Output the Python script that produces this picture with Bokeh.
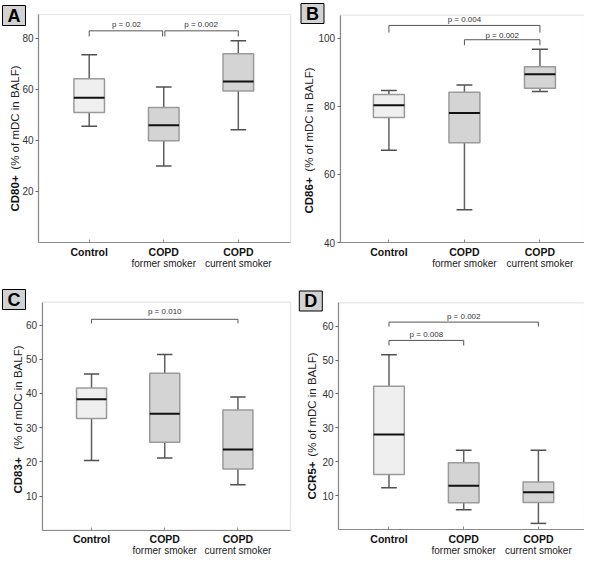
from bokeh.plotting import figure
from bokeh.models import Range1d, FixedTicker, LinearAxis, Label, BoxAnnotation
from bokeh.layouts import column, row
from bokeh.core.properties import value
from bokeh.embed import file_html
from bokeh.resources import INLINE

FONT = "Liberation Sans"

# ---------------- data ----------------
groups = ["Control", "COPD", "COPD"]
subgroups = ["", "former smoker", "current smoker"]
ylabel_suffix = "(% of mDC in BALF)"

# Panel A: CD80+
a_low = [45.5, 30.0, 44.2]
a_q1 = [50.9, 39.9, 59.3]
a_med = [56.7, 45.9, 63.1]
a_q3 = [64.1, 52.9, 73.9]
a_high = [73.5, 60.9, 79.0]
a_ticks = [20, 40, 60, 80]
a_pvals = ["p = 0.02", "p = 0.002"]
a_pairs = [(0, 1), (1, 2)]
a_bar_y = [82.9, 82.9]
a_bar_end = [80.7, 80.7]
a_text_y = [85.2, 85.2]

# Panel B: CD86+
b_low = [67.1, 49.6, 84.3]
b_q1 = [76.7, 69.3, 85.3]
b_med = [80.3, 78.0, 89.4]
b_q3 = [83.4, 84.1, 91.6]
b_high = [84.6, 86.2, 96.7]
b_ticks = [40, 60, 80, 100]
b_pvals = ["p = 0.004", "p = 0.002"]
b_pairs = [(0, 2), (1, 2)]
b_bar_y = [103.7, 99.5]
b_bar_end = [101.6, 97.9]
b_text_y = [105.5, 100.8]

# Panel C: CD83+
c_low = [20.4, 21.1, 13.3]
c_q1 = [32.7, 25.7, 17.9]
c_med = [38.3, 34.1, 23.6]
c_q3 = [41.6, 45.9, 35.2]
c_high = [45.7, 51.4, 39.0]
c_ticks = [10, 20, 30, 40, 50, 60]
c_pvals = ["p = 0.010"]
c_pairs = [(0, 2)]
c_bar_y = [61.7]
c_bar_end = [60.5]
c_text_y = [63.9]

# Panel D: CCR5+
d_low = [12.3, 5.8, 1.8]
d_q1 = [16.2, 7.9, 8.0]
d_med = [28.0, 12.9, 11.0]
d_q3 = [42.3, 19.7, 14.0]
d_high = [51.6, 23.4, 23.4]
d_ticks = [10, 20, 30, 40, 50, 60]
d_pvals = ["p = 0.002", "p = 0.008"]
d_pairs = [(0, 2), (0, 1)]
d_bar_y = [61.2, 55.8]
d_bar_end = [59.9, 54.3]
d_text_y = [62.8, 57.4]

CTRL_FILL = "#efefef"
COPD_FILL = "#d4d4d4"
fills = [CTRL_FILL, COPD_FILL, COPD_FILL]


def panel(letter, marker, low, q1, med, q3, high, ticks, pvals, pairs, bar_y, bar_end, text_y,
          xr, yr, size, inner, ylab_x, ylab_lo, ylab_hi, letter_xy):
    W, H = size
    L, R, T, B = inner            # plot box inside the figure (pixels, from top-left)
    xlo, xhi = xr
    ylo, yhi = yr
    kx = (R - L) / (xhi - xlo)
    ky = (B - T) / (yhi - ylo)
    fx = (xlo - L / kx, xhi + (W - R) / kx)
    fy = (ylo - (H - B) / ky, yhi + T / ky)

    p = figure(width=W, height=H, x_range=Range1d(*fx), y_range=Range1d(*fy),
               output_backend="svg", toolbar_location=None, min_border=0)
    p.xgrid.visible = False
    p.ygrid.visible = False
    p.outline_line_color = None
    p.background_fill_color = "white"
    p.border_fill_color = "white"

    # plot box outline
    p.add_layout(BoxAnnotation(left=xlo, right=xhi, bottom=ylo, top=yhi,
                               fill_color=None, line_color="#a8a8a8", line_width=1.2,
                               level="underlay"))

    xs = list(range(len(groups)))
    bw = 0.41
    cw = 0.21
    # whiskers
    p.segment(x0=xs, y0=q3, x1=xs, y1=high, line_color="#606060", line_width=1.5)
    p.segment(x0=xs, y0=q1, x1=xs, y1=low, line_color="#606060", line_width=1.5)
    p.segment(x0=[x - cw / 2 for x in xs], y0=high, x1=[x + cw / 2 for x in xs], y1=high,
              line_color="#505050", line_width=1.5)
    p.segment(x0=[x - cw / 2 for x in xs], y0=low, x1=[x + cw / 2 for x in xs], y1=low,
              line_color="#505050", line_width=1.5)
    # boxes
    p.vbar(x=xs, width=bw, bottom=q1, top=q3, fill_color=fills,
           line_color="#9a9a9a", line_width=1.5)
    # medians
    p.segment(x0=[x - bw / 2 for x in xs], y0=med, x1=[x + bw / 2 for x in xs], y1=med,
              line_color="#111111", line_width=2)

    # significance brackets
    bx0, bx1, by, bye, tx = [], [], [], [], []
    for k, (i, j) in enumerate(pairs):
        gap = 0.015 if (i, j) == (1, 2) and letter == "A" else 0.0
        gap0 = 0.015 if (i, j) == (0, 1) and letter == "A" else 0.0
        bx0.append(i + gap); bx1.append(j - gap0)
        by.append(bar_y[k]); bye.append(bar_end[k])
        tx.append((i + j) / 2)
    p.segment(x0=bx0, y0=by, x1=bx1, y1=by, line_color="#555555", line_width=1)
    p.segment(x0=bx0, y0=by, x1=bx0, y1=bye, line_color="#555555", line_width=1)
    p.segment(x0=bx1, y0=by, x1=bx1, y1=bye, line_color="#555555", line_width=1)
    p.text(x=tx, y=text_y, text=pvals, text_font=value(FONT), text_font_size="8px",
           text_align="center", text_baseline="middle", text_color="#333333")

    # y axis (drawn at the left edge of the plot box)
    ya = p.yaxis[0]
    ya.fixed_location = xlo
    ya.bounds = (ylo, yhi)
    ya.ticker = FixedTicker(ticks=ticks)
    ya.major_tick_in = 0
    ya.major_tick_out = 3
    ya.minor_tick_line_color = None
    ya.axis_line_color = "#8a8a8a"
    ya.axis_line_width = 1.2
    ya.major_tick_line_color = "#666666"
    ya.major_label_text_font = FONT
    ya.major_label_text_font_size = "10px"
    ya.major_label_text_color = "#333333"
    ya.major_label_standoff = 2

    # x axes (group name bold, subgroup below)
    xa = p.xaxis[0]
    xa.fixed_location = ylo
    xa.bounds = (xlo, xhi)
    xa.ticker = FixedTicker(ticks=xs)
    xa.major_label_overrides = {i: g for i, g in enumerate(groups)}
    xa.major_tick_in = 3
    xa.major_tick_out = 0
    xa.minor_tick_line_color = None
    xa.axis_line_color = "#8a8a8a"
    xa.axis_line_width = 1.2
    xa.major_tick_line_color = "#8a8a8a"
    xa.major_label_text_font = FONT
    xa.major_label_text_font_style = "bold"
    xa.major_label_text_font_size = "10.5px"
    xa.major_label_text_color = "#111111"
    xa.major_label_standoff = 3

    xa2 = LinearAxis(ticker=FixedTicker(ticks=xs), fixed_location=ylo,
                     major_label_overrides={i: s for i, s in enumerate(subgroups)})
    xa2.axis_line_color = None
    xa2.major_tick_line_color = None
    xa2.minor_tick_line_color = None
    xa2.major_tick_in = 0
    xa2.major_tick_out = 0
    xa2.major_label_standoff = 15
    xa2.major_label_text_font = FONT
    xa2.major_label_text_font_size = "10px"
    xa2.major_label_text_color = "#222222"
    p.add_layout(xa2, "below")

    # y axis title: bold marker + normal text
    p.add_layout(Label(x=ylab_x, y=H - ylab_lo, x_units="screen", y_units="screen",
                       text=marker, angle=90, angle_units="deg",
                       text_align="left", text_baseline="middle", text_font=FONT,
                       text_font_style="bold", text_font_size="11.5px", text_color="#111111"))
    p.add_layout(Label(x=ylab_x, y=H - ylab_hi, x_units="screen", y_units="screen",
                       text=ylabel_suffix, angle=90, angle_units="deg",
                       text_align="right", text_baseline="middle", text_font=FONT,
                       text_font_size="11.5px", text_color="#222222"))
    # panel letter
    p.add_layout(Label(x=letter_xy[0], y=H - letter_xy[1], x_units="screen", y_units="screen",
                       text=letter, text_align="center",
                       text_baseline="middle", text_font=FONT, text_font_style="bold",
                       text_font_size="18px", text_color="#000000",
                       background_fill_color="#d2d2d2", border_line_color="#000000",
                       border_line_width=1, padding=(5, 0)))
    return p


pA = panel("A", "CD80+", a_low, a_q1, a_med, a_q3, a_high, a_ticks, a_pvals, a_pairs,
           a_bar_y, a_bar_end, a_text_y,
           (-0.68, 2.70), (0, 89.3), (292, 277), (38, 290, 14, 242),
           14, 211, 65, (13.5, 15))
pB = panel("B", "CD86+", b_low, b_q1, b_med, b_q3, b_high, b_ticks, b_pvals, b_pairs,
           b_bar_y, b_bar_end, b_text_y,
           (-0.645, 2.59), (40, 106.7), (292, 277), (47.7, 292, 14.7, 242),
           16.7, 213, 67, (20, 13))
pC = panel("C", "CD83+", c_low, c_q1, c_med, c_q3, c_high, c_ticks, c_pvals, c_pairs,
           c_bar_y, c_bar_end, c_text_y,
           (-0.674, 2.718), (0, 66.7), (292, 278), (41.7, 290, 24.7, 252.7),
           17, 216, 68, (13.5, 22))
pD = panel("D", "CCR5+", d_low, d_q1, d_med, d_q3, d_high, d_ticks, d_pvals, d_pairs,
           d_bar_y, d_bar_end, d_text_y,
           (-0.676, 2.617), (0, 66.9), (292, 278), (46, 292, 25.3, 252),
           19, 222, 75, (18.3, 23.5))

layout = column(row(pA, pB), row(pC, pD))
open("out.html", "w").write(file_html(layout, INLINE))
